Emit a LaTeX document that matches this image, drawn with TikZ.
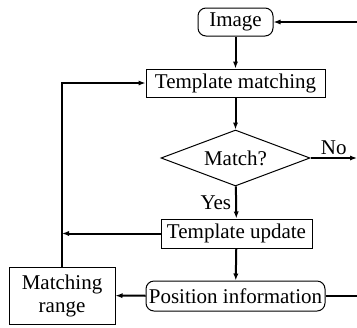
\documentclass[tikz,border=0pt]{standalone}
\usepackage{fontspec}
\setmainfont{Liberation Serif}
\usetikzlibrary{shapes.geometric,arrows.meta}

\begin{document}
\begin{tikzpicture}
		[x=0.5pt,y=-0.5pt,
		font=\fontsize{10.5}{11.5}\selectfont,
		box/.style={draw,line width=.5pt,inner sep=0pt},
		roundbox/.style={box,rounded corners=4pt},
		flow/.style={-{Latex[length=3.5pt,width=2.6pt]},line width=1pt}]
		\useasboundingbox (0,0) rectangle (357,327);

		\node[roundbox,minimum width=37.5pt,minimum height=14pt] (img) at (235.5,22) {Image};
		\node[box,minimum width=89.5pt,minimum height=14pt] (tm) at (235.5,83) {Template matching};
		\node[box,diamond,aspect=2.66,minimum width=74.5pt,minimum height=28pt] (match) at (235.5,158) {Match?};
		\node[box,minimum width=75.5pt,minimum height=14.5pt] (tu) at (236.5,233.5) {Template update};
		\node[roundbox,minimum width=89.5pt,minimum height=15pt] (pos) at (235.5,296) {Position information};
		\node[box,align=center,minimum width=53pt,minimum height=28.5pt] (mr) at (62,295.5) {Matching\\range};

		\coordinate (no) at (357,158);
		\coordinate (back1) at (357,296);
		\coordinate (back2) at (357,22);

		\draw[flow] (back2) -- (img);
		\draw[flow] (img) -- (tm);
		\draw[flow] (tm) -- (match);
		\draw[flow] (match) -- (no) node[pos=.5,above,inner sep=1pt] {No};
		\draw[flow] (match) -- (tu) node[midway,left,inner sep=2pt] {Yes};
		\draw[flow] (tu) -- (pos);
		\draw[flow] (pos) -- (mr);
		\draw[line width=1pt] (pos) -- (back1);
		\draw[flow] (tu) -- (mr.north |- tu.west);
		\draw[flow] (mr.north) -- (mr.north |- tm.west) -- (tm);

	\end{tikzpicture}
\end{document}
